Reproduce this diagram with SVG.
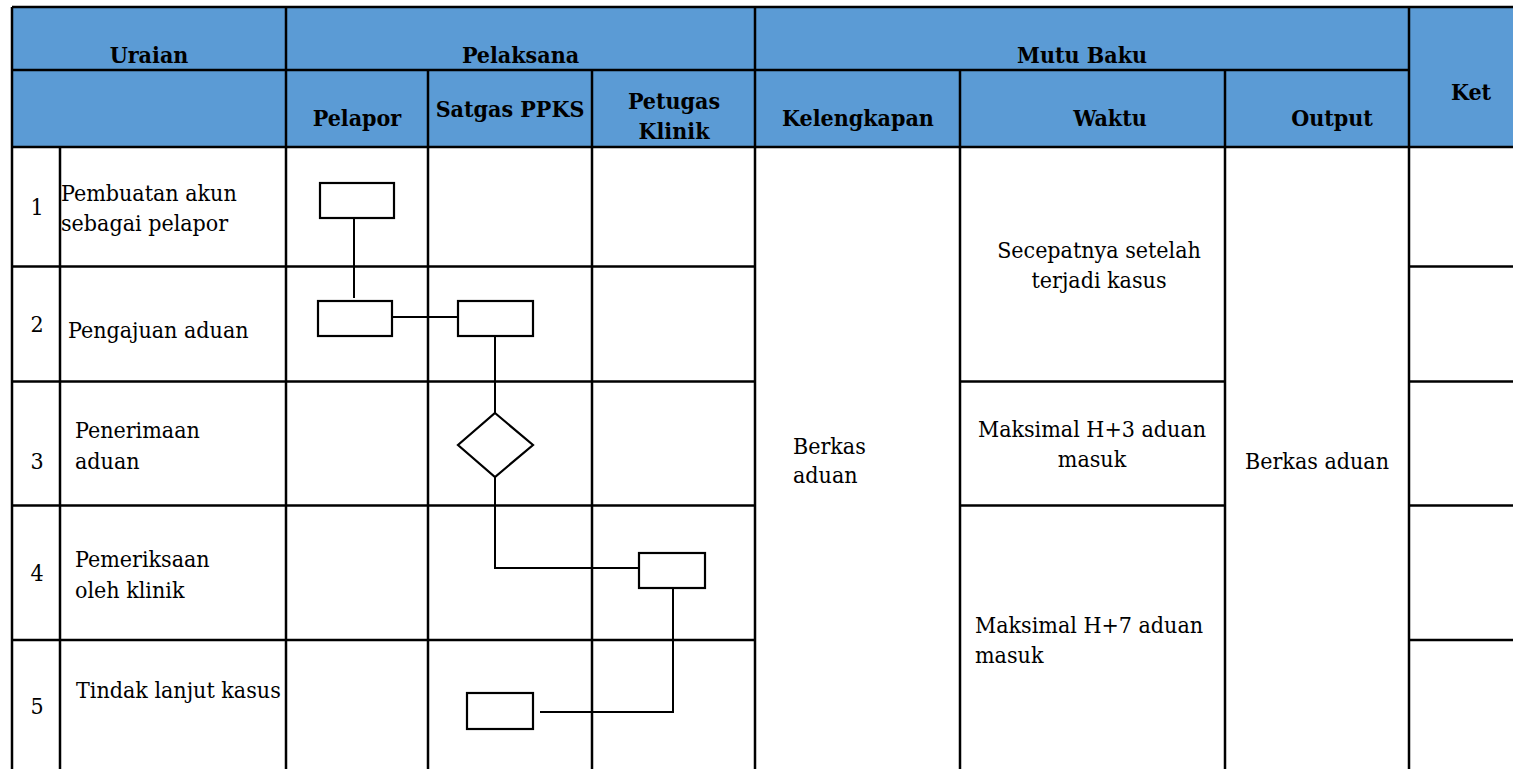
<svg xmlns="http://www.w3.org/2000/svg" width="1513" height="769" viewBox="0 0 1513 769">
<style>
.grid{stroke:#000;stroke-width:2.5;fill:none}
.shape{fill:#fff;stroke:#000;stroke-width:2.2}
.conn{fill:none;stroke:#000;stroke-width:2}
.h{font-family:"DejaVu Serif Condensed","DejaVu Serif",serif;font-stretch:condensed;font-weight:bold;font-size:23px;fill:#000}
.t{font-family:"DejaVu Serif Condensed","DejaVu Serif",serif;font-stretch:condensed;font-size:23px;fill:#000}
.m{text-anchor:middle}
</style>
<rect width="1513" height="769" fill="#fff"/>
<rect x="12" y="7" width="1501" height="140" fill="#5B9BD5"/>
<g id="table" class="grid">
<line x1="12" y1="7" x2="1513" y2="7"/>
<line x1="12" y1="70" x2="1409" y2="70"/>
<line x1="12" y1="147" x2="1513" y2="147"/>
<line x1="12" y1="266.5" x2="755" y2="266.5"/>
<line x1="1409" y1="266.5" x2="1513" y2="266.5"/>
<line x1="12" y1="381.5" x2="755" y2="381.5"/>
<line x1="960" y1="381.5" x2="1225" y2="381.5"/>
<line x1="1409" y1="381.5" x2="1513" y2="381.5"/>
<line x1="12" y1="505.5" x2="755" y2="505.5"/>
<line x1="960" y1="505.5" x2="1225" y2="505.5"/>
<line x1="1409" y1="505.5" x2="1513" y2="505.5"/>
<line x1="12" y1="640" x2="755" y2="640"/>
<line x1="1409" y1="640" x2="1513" y2="640"/>
<line x1="12" y1="7" x2="12" y2="769"/>
<line x1="60" y1="147" x2="60" y2="769"/>
<line x1="286" y1="7" x2="286" y2="769"/>
<line x1="428" y1="70" x2="428" y2="769"/>
<line x1="592" y1="70" x2="592" y2="769"/>
<line x1="755" y1="7" x2="755" y2="769"/>
<line x1="960" y1="70" x2="960" y2="769"/>
<line x1="1225" y1="70" x2="1225" y2="769"/>
<line x1="1409" y1="7" x2="1409" y2="769"/>
</g>
<g id="headers">
<text class="h m" x="149" y="63">Uraian</text>
<text class="h m" x="520.5" y="63">Pelaksana</text>
<text class="h m" x="1082" y="63">Mutu Baku</text>
<text class="h m" x="357" y="126">Pelapor</text>
<text class="h m" x="510" y="117">Satgas PPKS</text>
<text class="h m" x="674" y="109">Petugas</text>
<text class="h m" x="674" y="139">Klinik</text>
<text class="h m" x="858" y="126">Kelengkapan</text>
<text class="h m" x="1110" y="126">Waktu</text>
<text class="h m" x="1332" y="126">Output</text>
<text class="h m" x="1471" y="100">Ket</text>
</g>
<g id="rows">
<text class="t m" x="37" y="215">1</text>
<text class="t" x="61" y="201">Pembuatan akun</text>
<text class="t" x="61" y="231">sebagai pelapor</text>
<text class="t m" x="37" y="332">2</text>
<text class="t" x="68" y="338">Pengajuan aduan</text>
<text class="t m" x="37" y="469">3</text>
<text class="t" x="75" y="438">Penerimaan</text>
<text class="t" x="75" y="469">aduan</text>
<text class="t m" x="37" y="581">4</text>
<text class="t" x="75" y="567">Pemeriksaan</text>
<text class="t" x="75" y="598">oleh klinik</text>
<text class="t m" x="37" y="714">5</text>
<text class="t" x="76" y="698">Tindak lanjut kasus</text>
<text class="t" x="793" y="454">Berkas</text>
<text class="t" x="793" y="483">aduan</text>
<text class="t m" x="1099" y="258">Secepatnya setelah</text>
<text class="t m" x="1099" y="288">terjadi kasus</text>
<text class="t m" x="1092" y="437">Maksimal H+3 aduan</text>
<text class="t m" x="1092" y="467">masuk</text>
<text class="t m" x="1317" y="469">Berkas aduan</text>
<text class="t" x="975" y="633">Maksimal H+7 aduan</text>
<text class="t" x="975" y="663">masuk</text>
</g>
<g id="connectors" class="conn">
<line x1="354" y1="218" x2="354" y2="298"/>
<line x1="392" y1="317" x2="458" y2="317"/>
<line x1="495" y1="336" x2="495" y2="413"/>
<polyline points="495,477 495,568 639,568"/>
<polyline points="673,588 673,712 540,712"/>
</g>
<g id="n1"><rect class="shape" x="320" y="183" width="74" height="35"/></g>
<g id="n2"><rect class="shape" x="318" y="301" width="74" height="35"/></g>
<g id="n3"><rect class="shape" x="458" y="301" width="75" height="35"/></g>
<g id="n4"><polygon class="shape" points="495,413 533,445 495,477 458,445"/></g>
<g id="n5"><rect class="shape" x="639" y="553" width="66" height="35"/></g>
<g id="n6"><rect class="shape" x="467" y="693" width="66" height="36"/></g>
</svg>
